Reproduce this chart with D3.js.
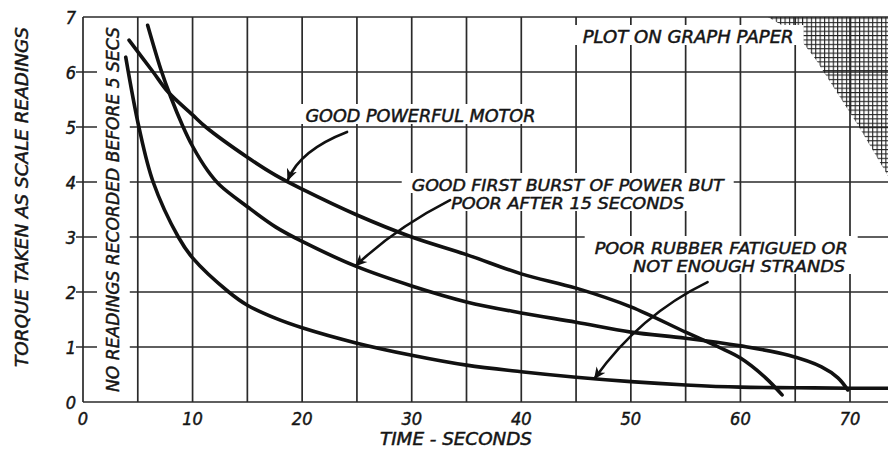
<!DOCTYPE html>
<meta charset="utf-8">
<title>Torque against time</title>
<style>
  body { margin: 0; background: #fff; }
  text { font-family: "DejaVu Sans Condensed", "DejaVu Sans", sans-serif; font-style: italic; fill: #151515; stroke: #151515; stroke-width: 0.45; }
</style>
<body>
<script src="https://d3js.org/d3.v7.min.js"></script>
<div id="chart"></div>
<script>
// readings taken off the three curves (time in seconds, torque as scale reading)
var goodTime   = [4.2, 6.4, 7.75, 10, 11.2, 15, 17.6, 20, 25, 30, 35, 40, 45, 50, 55, 58, 60, 62.3, 63.8];
var goodTorque = [6.58, 6.0, 5.64, 5.22, 5.0, 4.45, 4.12, 3.87, 3.4, 3.0, 2.68, 2.33, 2.07, 1.73, 1.27, 1.0, 0.8, 0.44, 0.13];

var burstTime   = [5.9, 7.1, 8, 9.1, 10, 11.4, 12.5, 15, 17.6, 20, 25, 30, 35, 40, 45, 50, 55, 60, 64.4, 67.4, 68.9, 69.8];
var burstTorque = [6.85, 6.05, 5.55, 5.02, 4.65, 4.2, 3.94, 3.55, 3.18, 2.92, 2.46, 2.11, 1.82, 1.62, 1.45, 1.27, 1.16, 1.02, 0.85, 0.64, 0.44, 0.22];

var poorTime   = [3.9, 5.1, 6.4, 8.7, 10, 13.3, 15, 17.6, 20, 25, 30, 35, 40, 45, 50, 55, 60, 65, 70, 73.5];
var poorTorque = [6.27, 5.0, 4.0, 3.0, 2.62, 2.0, 1.76, 1.52, 1.35, 1.07, 0.85, 0.67, 0.55, 0.45, 0.37, 0.31, 0.27, 0.26, 0.25, 0.25];

var xTickValues = [0, 10, 20, 30, 40, 50, 60, 70];
var yTickValues = [0, 1, 2, 3, 4, 5, 6, 7];

var xTitle = "TIME - SECONDS";
var yTitle = "TORQUE TAKEN AS SCALE READINGS";
var noReadings = "NO READINGS RECORDED BEFORE 5 SECS";
var notes = [
  ["GOOD POWERFUL MOTOR"],
  ["GOOD FIRST BURST OF POWER BUT", "POOR AFTER 15 SECONDS"],
  ["POOR RUBBER FATIGUED OR", "NOT ENOUGH STRANDS"],
  ["PLOT ON GRAPH PAPER"]
];

var width = 888, height = 450;

var x = d3.scaleLinear().domain([0, 70]).range([83, 850]);
var y = d3.scaleLinear().domain([0, 7]).range([402, 17]);
var xEnd = x.invert(width);

var svg = d3.select("#chart").append("svg")
    .attr("width", width)
    .attr("height", height);

svg.append("rect").attr("width", width).attr("height", height).attr("fill", "#fff");

var defs = svg.append("defs");
var step = x(0.4) - x(0);
defs.append("pattern")
    .attr("id", "paper")
    .attr("patternUnits", "userSpaceOnUse")
    .attr("width", step).attr("height", step)
  .append("path")
    .attr("d", "M0,0.5H" + step + "M0.5,0V" + step)
    .attr("stroke", "#222").attr("stroke-width", 1.2);

defs.append("marker")
    .attr("id", "head")
    .attr("markerUnits", "userSpaceOnUse")
    .attr("viewBox", "0 -5 10 10")
    .attr("refX", 9).attr("refY", 0)
    .attr("markerWidth", 12).attr("markerHeight", 12)
    .attr("orient", "auto")
  .append("path")
    .attr("d", "M0,-4.5L10,0L0,4.5L3,0Z")
    .attr("fill", "#111");

// grid
var grid = svg.append("g").attr("stroke", "#2a2a2a").attr("stroke-width", 1.7);
grid.selectAll(".v").data(d3.range(0, 71, 5)).enter().append("line")
    .attr("x1", d => x(d)).attr("x2", d => x(d))
    .attr("y1", y(7)).attr("y2", y(0));
grid.selectAll(".h").data(yTickValues).enter().append("line")
    .attr("x1", d => (d > 0 && d < 7) ? x(0) - 7 : x(0)).attr("x2", width)
    .attr("y1", d => y(d)).attr("y2", d => y(d));

// graph paper corner
var corner = [[62.5, 7], [xEnd, 7], [xEnd, 4.11], [70.7, 5.04], [66.8, 6.25], [65.0, 6.71]];
svg.append("polygon")
    .attr("points", corner.map(p => x(p[0]) + "," + y(p[1])).join(" "))
    .attr("fill", "url(#paper)");

// white boxes behind the lettering, then the lettering
var noteLayout = [
  [[20.3, 122, 230]],
  [[30.0, 191, 312], [33.6, 209, 233]],
  [[46.7, 254, 253], [50.2, 272, 212]],
  [[45.6, 43, 211]]
];
var boxes = svg.append("g").attr("fill", "#fff");
var labels = svg.append("g").attr("font-size", 17);
notes.forEach(function(lines, i) {
  lines.forEach(function(s, j) {
    var l = noteLayout[i][j], x0 = x(l[0]);
    boxes.append("rect")
        .attr("x", x0 - 10).attr("y", l[1] - 18)
        .attr("width", l[2] + 20).attr("height", 20);
    labels.append("text")
        .attr("x", x0).attr("y", l[1])
        .attr("font-size", lines.length > 1 ? 16 : 17)
        .attr("textLength", l[2]).attr("lengthAdjust", "spacingAndGlyphs")
        .text(s);
  });
});

// "no readings" strip
boxes.append("rect")
    .attr("x", x(0) + 14).attr("y", y(7) + 2)
    .attr("width", x(5) - x(0) - 22).attr("height", y(0) - y(7) - 12);
labels.append("text")
    .attr("transform", "translate(119," + (y(0) + y(7)) / 2 + ") rotate(-90)")
    .attr("text-anchor", "middle")
    .attr("textLength", 365).attr("lengthAdjust", "spacingAndGlyphs")
    .text(noReadings);

// axis titles and tick labels
labels.append("text")
    .attr("transform", "translate(28,197) rotate(-90)")
    .attr("text-anchor", "middle")
    .attr("textLength", 340).attr("lengthAdjust", "spacingAndGlyphs")
    .text(yTitle);
labels.append("text")
    .attr("x", 456).attr("y", 445)
    .attr("text-anchor", "middle")
    .attr("textLength", 152).attr("lengthAdjust", "spacingAndGlyphs")
    .text(xTitle);
labels.selectAll(".yt").data(yTickValues).enter().append("text")
    .attr("x", 76).attr("y", d => y(d) + 6.5)
    .attr("text-anchor", "end")
    .attr("font-size", 18)
    .text(d => d);
labels.selectAll(".xt").data(xTickValues).enter().append("text")
    .attr("x", d => x(d)).attr("y", 425)
    .attr("text-anchor", "middle")
    .attr("font-size", 18)
    .text(d => d);

// curves
var line = d3.line()
    .x(d => x(d[0])).y(d => y(d[1]))
    .curve(d3.curveCatmullRom.alpha(0.5));
[[goodTime, goodTorque], [burstTime, burstTorque], [poorTime, poorTorque]].forEach(function(s) {
  svg.append("path")
      .datum(d3.zip(s[0], s[1]))
      .attr("d", line)
      .attr("fill", "none")
      .attr("stroke", "#111")
      .attr("stroke-width", 3.6)
      .attr("stroke-linecap", "round");
});

// pointers from the notes to the curves: start, bend, tip
var pointers = [
  [[24.1, 4.91], [19.8, 4.58], [18.7, 4.04]],
  [[33.5, 3.67], [28.5, 3.16], [24.9, 2.48]],
  [[57.0, 2.18], [50.8, 1.58], [46.7, 0.43]]
];
svg.selectAll(".ptr").data(pointers).enter().append("path")
    .attr("d", p => "M" + x(p[0][0]) + "," + y(p[0][1]) +
                    "Q" + x(p[1][0]) + "," + y(p[1][1]) + " " +
                    x(p[2][0]) + "," + y(p[2][1]))
    .attr("fill", "none")
    .attr("stroke", "#111")
    .attr("stroke-width", 2.6)
    .attr("stroke-linecap", "round")
    .attr("marker-end", "url(#head)");
</script>
</body>
